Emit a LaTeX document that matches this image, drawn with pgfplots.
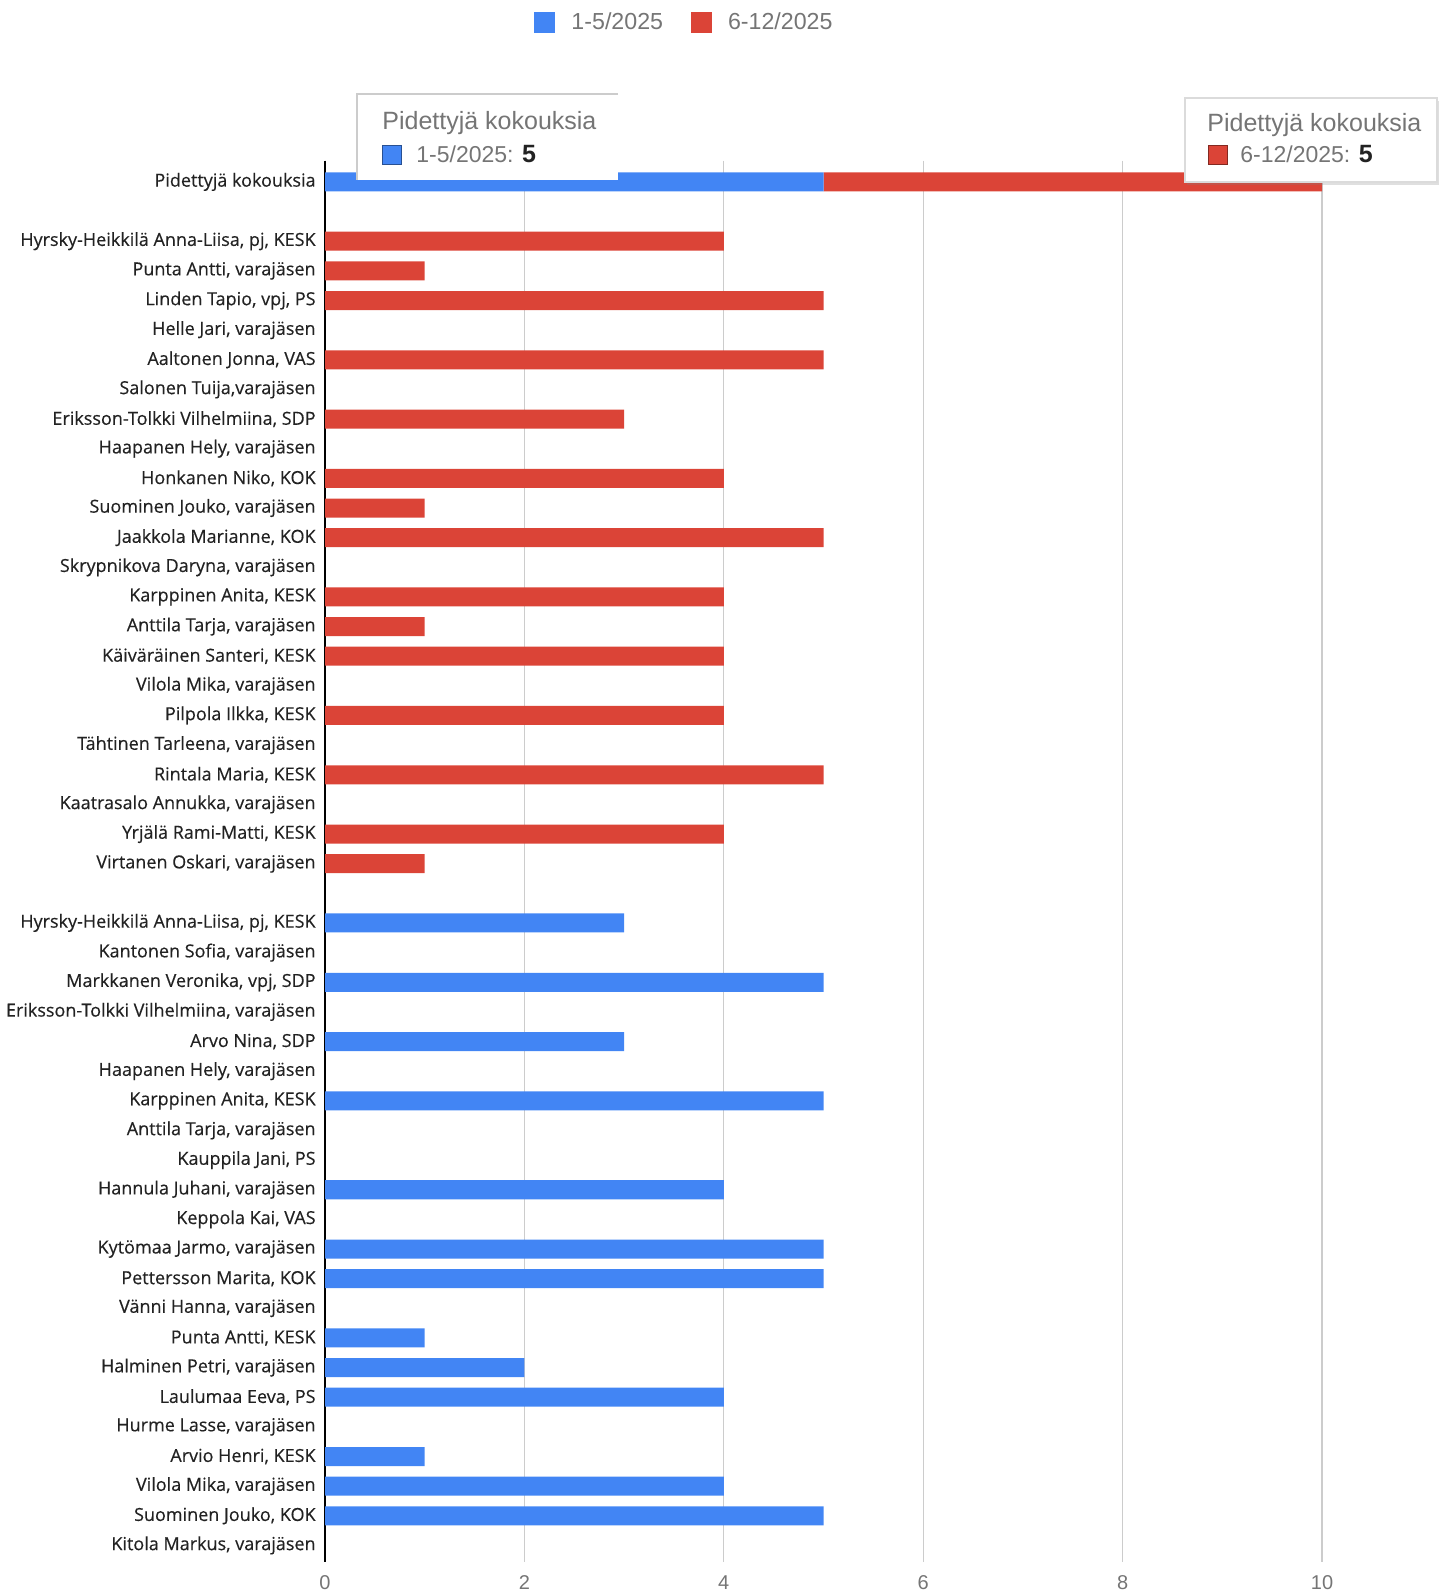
\documentclass[border=0pt]{standalone}
\usepackage{pgfplots}
\usepackage{pgfplotstable}
\pgfplotsset{compat=1.18}
\usepackage{fontspec}
\setmainfont{Liberation Sans}
\newfontfamily\labelfont[FakeBold=0.35]{Open Sans}
\usetikzlibrary{shadows}

\definecolor{gblue}{HTML}{4285F4}
\definecolor{gred}{HTML}{DB4437}
\definecolor{ggrid}{HTML}{CCCCCC}
\definecolor{gtext}{HTML}{757575}
\definecolor{glabel}{HTML}{222222}

% row, meetings 1-5/2025, meetings 6-12/2025
\pgfplotstableread{
row blue red
0 5 5
1 0 0
2 0 4
3 0 1
4 0 5
5 0 0
6 0 5
7 0 0
8 0 3
9 0 0
10 0 4
11 0 1
12 0 5
13 0 0
14 0 4
15 0 1
16 0 4
17 0 0
18 0 4
19 0 0
20 0 5
21 0 0
22 0 4
23 0 1
24 0 0
25 3 0
26 0 0
27 5 0
28 0 0
29 3 0
30 0 0
31 5 0
32 0 0
33 0 0
34 4 0
35 0 0
36 5 0
37 5 0
38 0 0
39 1 0
40 2 0
41 4 0
42 0 0
43 1 0
44 4 0
45 5 0
46 0 0
}\meetings

\begin{document}
\begin{tikzpicture}
\path[use as bounding box] (0,0) rectangle (724pt,-796.5pt);
\begin{axis}[
    at={(162.5pt,-80.3pt)}, anchor=north west,
    scale only axis, width=498.5pt, height=700.7pt,
    xbar stacked, bar width=9.5pt,
    xmin=0, xmax=10, ymin=-0.72, ymax=46.56, y dir=reverse,
    xtick={0,2,4,6,8,10},
    ytick={0,...,46},
    yticklabels={
        {Pidettyjä kokouksia}, {},
        {Hyrsky-Heikkilä Anna-Liisa, pj, KESK},
        {Punta Antti, varajäsen},
        {Linden Tapio, vpj, PS},
        {Helle Jari, varajäsen},
        {Aaltonen Jonna, VAS},
        {Salonen Tuija,varajäsen},
        {Eriksson-Tolkki Vilhelmiina, SDP},
        {Haapanen Hely, varajäsen},
        {Honkanen Niko, KOK},
        {Suominen Jouko, varajäsen},
        {Jaakkola Marianne, KOK},
        {Skrypnikova Daryna, varajäsen},
        {Karppinen Anita, KESK},
        {Anttila Tarja, varajäsen},
        {Käiväräinen Santeri, KESK},
        {Vilola Mika, varajäsen},
        {Pilpola Ilkka, KESK},
        {Tähtinen Tarleena, varajäsen},
        {Rintala Maria, KESK},
        {Kaatrasalo Annukka, varajäsen},
        {Yrjälä Rami-Matti, KESK},
        {Virtanen Oskari, varajäsen},
        {},
        {Hyrsky-Heikkilä Anna-Liisa, pj, KESK},
        {Kantonen Sofia, varajäsen},
        {Markkanen Veronika, vpj, SDP},
        {Eriksson-Tolkki Vilhelmiina, varajäsen},
        {Arvo Nina, SDP},
        {Haapanen Hely, varajäsen},
        {Karppinen Anita, KESK},
        {Anttila Tarja, varajäsen},
        {Kauppila Jani, PS},
        {Hannula Juhani, varajäsen},
        {Keppola Kai, VAS},
        {Kytömaa Jarmo, varajäsen},
        {Pettersson Marita, KOK},
        {Vänni Hanna, varajäsen},
        {Punta Antti, KESK},
        {Halminen Petri, varajäsen},
        {Laulumaa Eeva, PS},
        {Hurme Lasse, varajäsen},
        {Arvio Henri, KESK},
        {Vilola Mika, varajäsen},
        {Suominen Jouko, KOK},
        {Kitola Markus, varajäsen}},
    major tick length=0pt,
    xmajorgrids, grid style={ggrid, line width=0.6pt},
    axis lines*=left,
    x axis line style={draw=none},
    y axis line style={black, line width=1pt},
    /pgf/number format/assume math mode=true,
    xticklabel style={font=\fontsize{10}{12}\selectfont, text=gtext, inner sep=0pt, yshift=-6.5pt},
    yticklabel style={font=\labelfont\fontsize{9}{11}\selectfont, text=glabel, inner sep=0pt, xshift=-4.5pt},
    legend style={at={(axis description cs:0.3616,1.0986)}, anchor=center,
        draw=none, fill=none, legend columns=2,
        font=\fontsize{11.6}{13}\selectfont, text=gtext,
        /tikz/every odd column/.append style={column sep=6pt},
        /tikz/every even column/.append style={column sep=12pt}},
    legend image code/.code={\fill[#1] (0pt,-5.25pt) rectangle (10.5pt,5.25pt);},
]
\addplot[fill=gblue, draw=none] table[x=blue, y=row] {\meetings};
\addlegendentry{1-5/2025}
\addplot[fill=gred, draw=none] table[x=red, y=row] {\meetings};
\addlegendentry{6-12/2025}
\end{axis}

% hover tooltips, in pixel units
\begin{scope}[x=0.5pt, y=-0.5pt]
\fill[white] (357,94) rectangle (618,180);
\draw[ggrid, line width=0.8pt] (618,94) -- (357,94) -- (357,180);
\node[anchor=base west, inner sep=0pt, text=gtext, font=\fontsize{12.5}{14}\selectfont] at (382,130) {Pidettyjä kokouksia};
\filldraw[fill=gblue, draw=gblue!60!black, line width=0.5pt] (382,146) rectangle (401,165);
\node[anchor=base west, inner sep=0pt, font=\fontsize{11.5}{14}\selectfont] at (416,163) {\textcolor{gtext}{1-5/2025:} \textcolor{glabel}{\fontsize{12.5}{14}\selectfont\textbf{5}}};

\filldraw[fill=white, draw=ggrid!70, line width=0.6pt, drop shadow={shadow xshift=1pt, shadow yshift=-1.5pt, opacity=0.25}] (1185,98) rectangle (1437,182);
\node[anchor=base west, inner sep=0pt, text=gtext, font=\fontsize{12.5}{14}\selectfont] at (1207,132) {Pidettyjä kokouksia};
\filldraw[fill=gred, draw=gred!60!black, line width=0.5pt] (1208,146) rectangle (1227,165);
\node[anchor=base west, inner sep=0pt, font=\fontsize{11.5}{14}\selectfont] at (1240,163) {\textcolor{gtext}{6-12/2025:} \textcolor{glabel}{\fontsize{12.5}{14}\selectfont\textbf{5}}};
\end{scope}
\end{tikzpicture}
\end{document}
